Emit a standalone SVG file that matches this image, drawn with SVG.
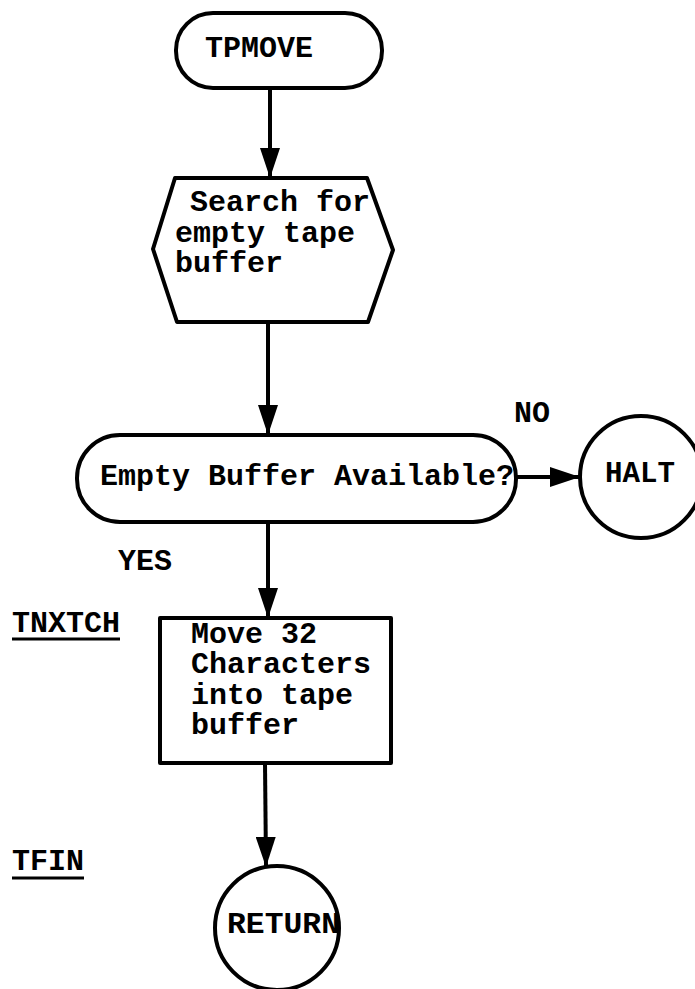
<svg xmlns="http://www.w3.org/2000/svg" width="695" height="989" viewBox="0 0 695 989">
<style>
.shape{fill:#fff;stroke:#000;stroke-width:4;stroke-linejoin:round}
.t{font-family:"Liberation Mono","Courier New",monospace;font-weight:bold;font-size:30px;fill:#000}
.conn{stroke:#000;stroke-width:4;fill:none}
.ul{stroke:#000;stroke-width:3}
</style>
<defs>
<marker id="ah" markerUnits="userSpaceOnUse" markerWidth="30" markerHeight="20" refX="29" refY="10" orient="auto" viewBox="0 0 30 20">
<path d="M0,0 L30,10 L0,20 Z" fill="#000"/>
</marker>
</defs>
<rect width="695" height="989" fill="#fff"/>
<g id="connectors">
<line class="conn" x1="270" y1="88" x2="270" y2="177" marker-end="url(#ah)"/>
<line class="conn" x1="268" y1="322" x2="268" y2="434" marker-end="url(#ah)"/>
<line class="conn" x1="268" y1="522" x2="268" y2="617" marker-end="url(#ah)"/>
<line class="conn" x1="265" y1="763" x2="266" y2="866" marker-end="url(#ah)"/>
<line class="conn" x1="516" y1="477" x2="579" y2="477" marker-end="url(#ah)"/>
</g>
<g id="tpmove">
<rect class="shape" x="176" y="13" width="206" height="75" rx="37" ry="37"/>
<text class="t" x="205" y="57">TPMOVE</text>
</g>
<g id="search">
<polygon class="shape" points="175,178 367,178 393,250 368,322 177,322 153,249"/>
<text class="t" x="190" y="211">Search for</text>
<text class="t" x="175" y="242">empty tape</text>
<text class="t" x="175" y="272">buffer</text>
</g>
<g id="decision">
<rect class="shape" x="77" y="435" width="439" height="87" rx="43" ry="43"/>
<text class="t" x="100" y="485">Empty Buffer Available?</text>
</g>
<g id="halt">
<circle class="shape" cx="641" cy="477" r="61"/>
<text class="t" x="605" y="482" textLength="70" lengthAdjust="spacingAndGlyphs">HALT</text>
</g>
<g id="move">
<rect class="shape" x="160" y="618" width="231" height="145"/>
<text class="t" x="191" y="643">Move 32</text>
<text class="t" x="191" y="673">Characters</text>
<text class="t" x="191" y="704">into tape</text>
<text class="t" x="191" y="734">buffer</text>
</g>
<g id="return">
<circle class="shape" cx="277" cy="928" r="62"/>
<text class="t" x="227" y="933" textLength="113" lengthAdjust="spacingAndGlyphs">RETURN</text>
</g>
<g id="labels">
<text class="t" x="514" y="422">NO</text>
<text class="t" x="118" y="570">YES</text>
<text class="t" x="12" y="632">TNXTCH</text>
<line class="ul" x1="12" y1="639" x2="120" y2="639"/>
<text class="t" x="12" y="870">TFIN</text>
<line class="ul" x1="12" y1="878" x2="84" y2="878"/>
</g>
</svg>
